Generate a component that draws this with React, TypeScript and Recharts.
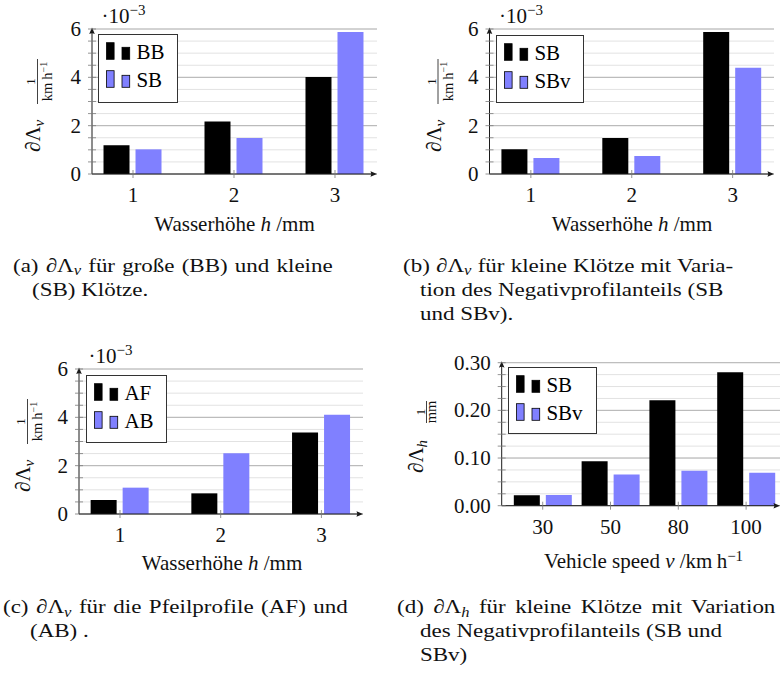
import React from 'react';
import { BarChart, Bar, XAxis, YAxis, CartesianGrid, Legend } from 'recharts';

const FONT = '"Liberation Serif", "Times New Roman", Times, serif';
const INK = '#1a1a1a';
const BLACK = '#000000';
const BLUE = '#8080ff';
const GRID_MAJOR = '#b4b4b4';
const GRID_MINOR = '#e2e2e2';
const TICK = '#7a7a7a';

// ---------------- data ----------------
const waterHeights = [1, 2, 3];
const waterLabels = ['1', '2', '3'];
const speedSlots = [1, 2, 3, 4];
const speedLabels = ['30', '50', '80', '100'];

const aBB = [1.19, 2.17, 4.01];
const aSB = [1.02, 1.49, 5.88];
const bSB = [1.02, 1.49, 5.88];
const bSBv = [0.66, 0.74, 4.4];
const cAF = [0.58, 0.855, 3.37];
const cAB = [1.09, 2.51, 4.11];
const dSB = [0.0217, 0.093, 0.221, 0.28];
const dSBv = [0.0224, 0.0657, 0.0734, 0.0692];

const vAllTicks = [0, 0.5, 1, 1.5, 2, 2.5, 3, 3.5, 4, 4.5, 5, 5.5, 6];
const vMajorTicks = [0, 2, 4, 6];
const hAllTicks = [0, 0.025, 0.05, 0.075, 0.1, 0.125, 0.15, 0.175, 0.2, 0.225, 0.25, 0.275, 0.3];
const hMajorTicks = [0, 0.1, 0.2, 0.3];

const namesA = ['BB', 'SB'];
const namesB = ['SB', 'SBv'];
const namesC = ['AF', 'AB'];
const namesD = ['SB', 'SBv'];

type Seg = { t: string; it?: boolean; sub?: boolean; sup?: boolean };

const titleWater: Seg[] = [{ t: 'Wasserhöhe ' }, { t: 'h', it: true }, { t: ' /mm' }];
const titleSpeed: Seg[] = [{ t: 'Vehicle speed ' }, { t: 'v', it: true }, { t: ' /km\u2009h' }, { t: '\u22121', sup: true }];
const denKmh: Seg[] = [{ t: 'km\u2009h' }, { t: '\u22121', sup: true }];
const denMm: Seg[] = [{ t: 'mm' }];

const captionLines: { x: number; y: number; ws: number; segs: Seg[] }[] = [
  { x: 13, y: 271.5, ws: 1.2, segs: [{ t: '(a) \u2202\u039B' }, { t: 'v', it: true, sub: true }, { t: ' für große (BB) und kleine' }] },
  { x: 32, y: 295.5, ws: 0, segs: [{ t: '(SB) Klötze.' }] },
  { x: 403, y: 271.5, ws: 0.4, segs: [{ t: '(b) \u2202\u039B' }, { t: 'v', it: true, sub: true }, { t: ' für kleine Klötze mit Varia-' }] },
  { x: 420, y: 295.5, ws: 0, segs: [{ t: 'tion des Negativprofilanteils (SB' }] },
  { x: 420, y: 319.5, ws: 0, segs: [{ t: 'und SBv).' }] },
  { x: 3, y: 613, ws: 1.5, segs: [{ t: '(c) \u2202\u039B' }, { t: 'v', it: true, sub: true }, { t: ' für die Pfeilprofile (AF) und' }] },
  { x: 30, y: 637, ws: 0, segs: [{ t: '(AB) .' }] },
  { x: 397, y: 613, ws: 3.1, segs: [{ t: '(d) \u2202\u039B' }, { t: 'h', it: true, sub: true }, { t: ' für kleine Klötze mit Variation' }] },
  { x: 420, y: 637, ws: 0, segs: [{ t: 'des Negativprofilanteils (SB und' }] },
  { x: 420, y: 661, ws: 0, segs: [{ t: 'SBv)' }] },
];

// ---------------- layout ----------------
type YLab = { bx: number; ay: number; bar: number; num: number; den: number; f0: number; f1: number; sub: string; denSegs: Seg[] };
type PanelCfg = {
  id: string; left: number; top: number; width: number; height: number;
  x0: number; x1: number; y0: number; y1: number; xDomain: [number, number];
  xs: number[]; xLabels: string[]; yDomain: [number, number]; yTicks: number[]; yMajors: number[];
  yFmt: (v: number) => string; s1: number[]; s2: number[]; names: string[];
  legend: { x: number; y: number; w: number; h: number };
  scaleNote: boolean; xTitle: Seg[]; xTitleCx: number; xTitleY: number; tickLabelY: number; yl: YLab;
};

const fmtInt = (v: number) => String(v);
const fmt2 = (v: number) => v.toFixed(2);

const panels: PanelCfg[] = [
  {
    id: 'a', left: 0, top: 0, width: 390, height: 245, x0: 92, x1: 377, y0: 29, y1: 174, xDomain: [0.594, 3.416],
    xs: waterHeights, xLabels: waterLabels, yDomain: [0, 6], yTicks: vAllTicks, yMajors: vMajorTicks, yFmt: fmtInt,
    s1: aBB, s2: aSB, names: namesA, legend: { x: 98.3, y: 34, w: 80, h: 69 },
    scaleNote: true, xTitle: titleWater, xTitleCx: 234.5, xTitleY: 231, tickLabelY: 201.7,
    yl: { bx: 40, ay: 152, bar: 37.5, num: 35, den: 52, f0: 104, f1: 59, sub: 'v', denSegs: denKmh },
  },
  {
    id: 'b', left: 390, top: 0, width: 392, height: 245, x0: 489.5, x1: 774, y0: 29, y1: 174, xDomain: [0.59, 3.41],
    xs: waterHeights, xLabels: waterLabels, yDomain: [0, 6], yTicks: vAllTicks, yMajors: vMajorTicks, yFmt: fmtInt,
    s1: bSB, s2: bSBv, names: namesB, legend: { x: 496, y: 35, w: 88, h: 68 },
    scaleNote: true, xTitle: titleWater, xTitleCx: 632, xTitleY: 231, tickLabelY: 201.7,
    yl: { bx: 440.5, ay: 152, bar: 438, num: 435.5, den: 452.5, f0: 104, f1: 59, sub: 'v', denSegs: denKmh },
  },
  {
    id: 'c', left: 0, top: 340, width: 390, height: 245, x0: 79, x1: 363, y0: 369, y1: 514, xDomain: [0.593, 3.413],
    xs: waterHeights, xLabels: waterLabels, yDomain: [0, 6], yTicks: vAllTicks, yMajors: vMajorTicks, yFmt: fmtInt,
    s1: cAF, s2: cAB, names: namesC, legend: { x: 86, y: 375, w: 81, h: 68 },
    scaleNote: true, xTitle: titleWater, xTitleCx: 222, xTitleY: 570, tickLabelY: 541.7,
    yl: { bx: 30, ay: 492, bar: 27.5, num: 25, den: 42, f0: 444, f1: 399, sub: 'v', denSegs: denKmh },
  },
  {
    id: 'd', left: 390, top: 340, width: 392, height: 245, x0: 501.7, x1: 780, y0: 362.7, y1: 505.7, xDomain: [0.395, 4.5],
    xs: speedSlots, xLabels: speedLabels, yDomain: [0, 0.3], yTicks: hAllTicks, yMajors: hMajorTicks, yFmt: fmt2,
    s1: dSB, s2: dSBv, names: namesD, legend: { x: 508, y: 367, w: 89, h: 67 },
    scaleNote: false, xTitle: titleSpeed, xTitleCx: 643.5, xTitleY: 568.3, tickLabelY: 534.3,
    yl: { bx: 423, ay: 473, bar: 426.5, num: 424.5, den: 436, f0: 423, f1: 401, sub: 'h', denSegs: denMm },
  },
];

function renderSegs(segs: Seg[], base: number, small: number, shift: number) {
  let cur = 0;
  return segs.map((s, i) => {
    const target = s.sub ? shift : s.sup ? -shift * 1.5 : 0;
    const dy = target - cur;
    cur = target;
    return (
      <tspan key={i} dy={dy} fontStyle={s.it ? 'italic' : 'normal'} fontSize={s.sub || s.sup ? small : base}>
        {s.t}
      </tspan>
    );
  });
}

function LegendBox({ names, w, h }: { names: string[]; w: number; h: number }) {
  return (
    <svg width={w} height={h} style={{ display: 'block' }}>
      <rect x={0.5} y={0.5} width={w - 1} height={h - 1} fill="#ffffff" stroke="#333333" strokeWidth={1} />
      {names.map((n, i) => {
        const oy = i * 28;
        const fill = i === 0 ? BLACK : BLUE;
        return (
          <g key={n}>
            <rect x={8.5} y={8.7 + oy} width={7.6} height={16.6} fill={fill} stroke={BLACK} strokeWidth={0.8} />
            <rect x={24} y={13.3 + oy} width={7.7} height={12} fill={fill} stroke={BLACK} strokeWidth={0.8} />
            <text x={38.4} y={25.3 + oy} fontFamily={FONT} fontSize={21} fill={BLACK}>{n}</text>
          </g>
        );
      })}
    </svg>
  );
}

function Panel({ cfg }: { cfg: PanelCfg }) {
  const { left, top, width, height } = cfg;
  const lx0 = cfg.x0 - left;
  const lx1 = cfg.x1 - left;
  const ly0 = cfg.y0 - top;
  const ly1 = cfg.y1 - top;
  const YW = 40;
  const XH = 30;
  const margin = { top: ly0, left: lx0 - YW, right: width - lx1, bottom: height - ly1 - XH };
  const rows = cfg.xs.map((x, i) => ({ x, s1: cfg.s1[i], s2: cfg.s2[i] }));
  const yl = cfg.yl;

  const yTick = (p: any) => {
    const v = p.payload.value as number;
    const y = p.y as number;
    const major = cfg.yMajors.some((m) => Math.abs(m - v) < 1e-9);
    return (
      <g>
        <line x1={lx0 - 4} x2={lx0 + 4} y1={y} y2={y} stroke={TICK} strokeWidth={0.8} />
        {major && (
          <text x={lx0 - 11} y={y + 7} textAnchor="end" fontFamily={FONT} fontSize={21} fill="#111">
            {cfg.yFmt(v)}
          </text>
        )}
      </g>
    );
  };

  const xTick = (p: any) => {
    const x = p.x as number;
    const idx = cfg.xs.indexOf(p.payload.value);
    return (
      <g>
        <line x1={x} x2={x} y1={ly1 - 4} y2={ly1 + 4} stroke={TICK} strokeWidth={0.8} />
        <text x={x} y={cfg.tickLabelY - top} textAnchor="middle" fontFamily={FONT} fontSize={21} fill="#111">
          {cfg.xLabels[idx]}
        </text>
      </g>
    );
  };

  const xDecor = () => (
    <g>
      <line x1={lx0} y1={ly1} x2={lx1 - 3} y2={ly1} stroke={INK} strokeWidth={1} />
      <path d={`M ${lx1} ${ly1} L ${lx1 - 6.5} ${ly1 - 2.8} Q ${lx1 - 4.8} ${ly1} ${lx1 - 6.5} ${ly1 + 2.8} Z`} fill={INK} />
      <text
        x={cfg.xTitleCx - left}
        y={cfg.xTitleY - top}
        textAnchor="middle"
        fontFamily={FONT}
        fontSize={21}
        fill="#111"
        style={{ whiteSpace: 'pre' }}
      >
        {renderSegs(cfg.xTitle, 21, 15, 5)}
      </text>
    </g>
  );

  const bx = yl.bx - left;
  const ay = yl.ay - top;
  const fu0 = yl.ay - yl.f0;
  const fu1 = yl.ay - yl.f1;
  const fmid = (fu0 + fu1) / 2;

  const yDecor = () => (
    <g>
      <line x1={lx0} y1={ly1} x2={lx0} y2={ly0 + 2} stroke={INK} strokeWidth={1} />
      <path d={`M ${lx0} ${ly0 - 1.5} L ${lx0 - 2.8} ${ly0 + 5} Q ${lx0} ${ly0 + 3.3} ${lx0 + 2.8} ${ly0 + 5} Z`} fill={INK} />
      <g transform={`translate(${bx} ${ay}) rotate(-90)`}>
        <text x={0} y={0} fontFamily={FONT} fontSize={21} fill="#111" style={{ whiteSpace: 'pre' }}>
          {renderSegs([{ t: '\u2202\u039B' }, { t: yl.sub, it: true, sub: true }], 21, 15, 4)}
        </text>
        <line x1={fu0} x2={fu1} y1={yl.bar - yl.bx} y2={yl.bar - yl.bx} stroke="#111" strokeWidth={0.8} />
        <text x={fmid} y={yl.num - yl.bx} textAnchor="middle" fontFamily={FONT} fontSize={13.5} fill="#111">1</text>
        <text x={fmid} y={yl.den - yl.bx} textAnchor="middle" fontFamily={FONT} fontSize={14.5} fill="#111" style={{ whiteSpace: 'pre' }}>
          {renderSegs(yl.denSegs, 14.5, 10, 3.5)}
        </text>
      </g>
      {cfg.scaleNote && (
        <text x={lx0 + 9.5} y={ly0 - 5.7} fontFamily={FONT} fontSize={21} fill="#111">
          <tspan>{'\u00B710'}</tspan>
          <tspan fontSize={15} dy={-8}>{'\u22123'}</tspan>
        </text>
      )}
    </g>
  );

  return (
    <div style={{ position: 'absolute', left, top, width, height }}>
      <BarChart width={width} height={height} data={rows} margin={margin} barGap={6}>
        <CartesianGrid horizontal vertical={false} stroke={GRID_MINOR} horizontalValues={cfg.yTicks} />
        <CartesianGrid horizontal vertical={false} stroke={GRID_MAJOR} horizontalValues={cfg.yMajors} />
        <XAxis
          type="number"
          dataKey="x"
          domain={cfg.xDomain}
          allowDataOverflow
          ticks={cfg.xs}
          interval={0}
          height={XH}
          tickLine={false}
          axisLine={false}
          tick={xTick}
          label={xDecor}
        />
        <YAxis
          type="number"
          domain={cfg.yDomain}
          allowDataOverflow
          ticks={cfg.yTicks}
          interval={0}
          width={YW}
          tickLine={false}
          axisLine={false}
          tick={yTick}
          label={yDecor}
        />
        <Bar dataKey="s1" name={cfg.names[0]} fill={BLACK} barSize={26} isAnimationActive={false} />
        <Bar dataKey="s2" name={cfg.names[1]} fill={BLUE} barSize={26} isAnimationActive={false} />
        <Legend
          layout="horizontal"
          verticalAlign="middle"
          align="center"
          wrapperStyle={{ left: cfg.legend.x - left, top: cfg.legend.y - top, width: cfg.legend.w, height: cfg.legend.h }}
          content={() => <LegendBox names={cfg.names} w={cfg.legend.w} h={cfg.legend.h} />}
        />
      </BarChart>
    </div>
  );
}

export default function App() {
  return (
    <div style={{ position: 'absolute', left: 0, top: 0, width: 782, height: 679, background: '#ffffff', fontFamily: FONT }}>
      {panels.map((p) => (
        <Panel key={p.id} cfg={p} />
      ))}
      <svg width={782} height={679} style={{ position: 'absolute', left: 0, top: 0, pointerEvents: 'none' }}>
        {captionLines.map((l, i) => (
          <text
            key={i}
            transform={`translate(${l.x} ${l.y}) scale(1.18 1)`}
            fontFamily={FONT}
            fontSize={19.5}
            fill="#111"
            style={{ whiteSpace: 'pre', wordSpacing: `${l.ws}px` }}
          >
            {renderSegs(l.segs, 19.5, 14, 3.5)}
          </text>
        ))}
      </svg>
    </div>
  );
}
